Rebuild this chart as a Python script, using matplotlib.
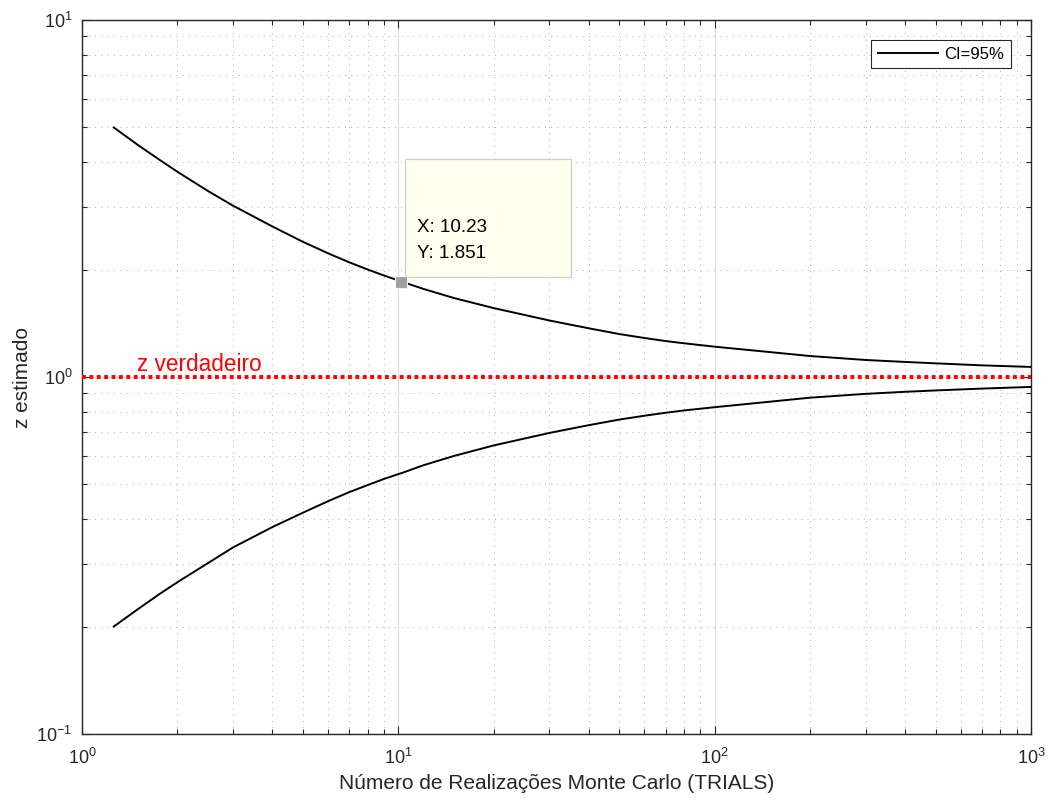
import matplotlib
matplotlib.use("Agg")
import matplotlib.pyplot as plt
import matplotlib.transforms as mtransforms
from matplotlib.patches import Rectangle
from matplotlib.ticker import NullFormatter

plt.rcParams['font.family'] = ['Liberation Sans', 'DejaVu Sans']
plt.rcParams['mathtext.fontset'] = 'custom'
plt.rcParams['mathtext.rm'] = 'Liberation Sans'
plt.rcParams['mathtext.it'] = 'Liberation Sans:italic'
plt.rcParams['mathtext.bf'] = 'Liberation Sans:bold'

# Monte Carlo trial counts and the 95% confidence bounds of the estimate
trials = [1.26, 1.5, 1.75, 2, 2.5, 3, 4, 5, 6, 7, 8, 9, 10.23, 12, 15, 20, 30, 40,
          50, 60, 70, 80, 100, 200, 300, 400, 500, 700, 1000]
upper = [5.0, 4.47, 4.07, 3.76, 3.32, 3.02, 2.64, 2.39, 2.22, 2.095, 2.00, 1.925, 1.851,
         1.765, 1.664, 1.560, 1.440, 1.369, 1.319, 1.286, 1.261, 1.243, 1.216,
         1.145, 1.116, 1.102, 1.092, 1.078, 1.067]
lower = [0.200, 0.2235, 0.246, 0.266, 0.301, 0.333, 0.380, 0.417, 0.449, 0.476, 0.498,
         0.518, 0.538, 0.566, 0.601, 0.643, 0.697, 0.733, 0.760, 0.779, 0.794, 0.806,
         0.823, 0.875, 0.897, 0.909, 0.917, 0.928, 0.938]
z_true = 1.0
tip_x, tip_y = 10.23, 1.851

ink = '#262626'

fig = plt.figure(figsize=(10.5, 8.01), dpi=100)
ax = fig.add_axes([82 / 1050, 1 - 734 / 801, (1031 - 82) / 1050, (734 - 20) / 801])
ax.set_xscale('log')
ax.set_yscale('log')
ax.set_xlim(1, 1000)
ax.set_ylim(0.1, 10)

ax.set_axisbelow(True)
ax.grid(which='major', color='#dcdcdc', lw=0.8, ls='-')
ax.grid(which='minor', color='#b4b4b4', lw=0.75, ls=(0, (1, 5)))
ax.xaxis.set_minor_formatter(NullFormatter())
ax.yaxis.set_minor_formatter(NullFormatter())

ax.tick_params(which='both', direction='in', top=True, right=True,
               color=ink, labelcolor=ink, labelsize=13, width=0.8)
ax.tick_params(which='major', length=5.8)
ax.tick_params(which='minor', length=3.3)
ax.tick_params(axis='x', which='major', pad=10)
ax.tick_params(axis='y', which='major', pad=7)
for sp in ax.spines.values():
    sp.set_color(ink)
    sp.set_linewidth(1.0)

ax.plot(trials, upper, color='black', lw=1.4, label='CI=95%', zorder=3)
ax.plot(trials, lower, color='black', lw=1.4, zorder=3)
ax.axhline(z_true, color='red', lw=2.8, ls=(0, (1, 0.9)), dash_capstyle='butt', zorder=4)
ax.text(1.49, 1.04, 'z verdadeiro', color='red', fontsize=16.3, va='baseline', ha='left')

ax.set_xlabel('Número de Realizações Monte Carlo (TRIALS)', fontsize=15, color=ink, labelpad=4)
ax.set_ylabel('z estimado', fontsize=15, color=ink, labelpad=3)

leg = ax.legend(loc='upper right', fontsize=12, handlelength=3.6, handletextpad=0.4,
                borderpad=0.4, borderaxespad=1.2, fancybox=False, framealpha=1)
leg.get_frame().set_edgecolor(ink)
leg.get_frame().set_linewidth(0.8)

# data tip
ax.plot([tip_x], [tip_y], marker='s', ms=9, mfc='#a0a0a0', mec='#f2f2f2', mew=0.8,
        ls='none', zorder=7)
px, py = ax.transData.transform((tip_x, tip_y))
ident = mtransforms.IdentityTransform()
ax.add_patch(Rectangle((px + 4, py + 5), 166, 118, transform=ident, fc='#ffffee',
                       ec='#d0d0d0', lw=1.0, zorder=6, clip_on=False))
ax.text(px + 16, py + 53.7, f'X: {tip_x:.4g}', transform=ident, fontsize=13.5,
        va='center', ha='left', color='black', zorder=7)
ax.text(px + 16, py + 27.7, f'Y: {tip_y:.4g}', transform=ident, fontsize=13.5,
        va='center', ha='left', color='black', zorder=7)

fig.savefig('out.png', dpi=100)
